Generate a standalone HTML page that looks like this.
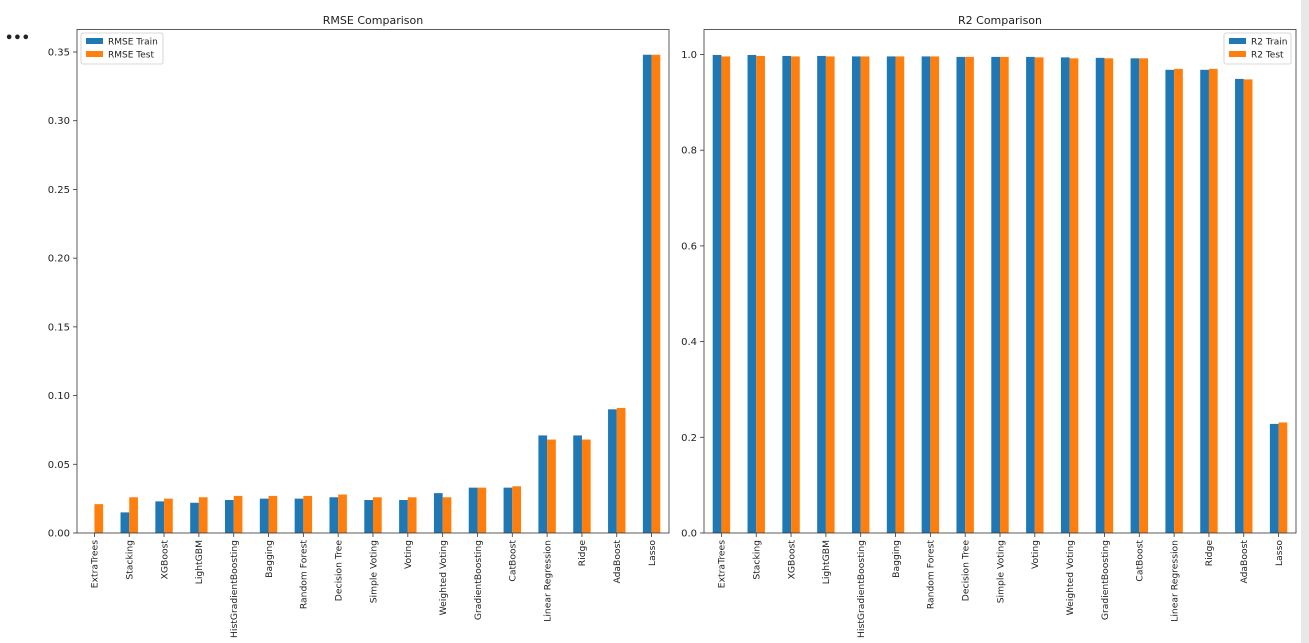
<!DOCTYPE html>
<html><head><meta charset="utf-8"><style>
html,body{margin:0;padding:0;background:#fff;width:1309px;height:643px;overflow:hidden;font-family:"Liberation Sans","DejaVu Sans",sans-serif}
</style></head><body>
<svg id="chart" width="1309" height="643" xmlns="http://www.w3.org/2000/svg" font-family="DejaVu Sans, Liberation Sans, sans-serif">
<rect x="1301" y="0" width="8" height="643" fill="#e8e8e8"/>
<text x="5" y="42" font-size="13" font-weight="bold" fill="#222">•••</text>
</svg>
<script>
const categories=["ExtraTrees","Stacking","XGBoost","LightGBM","HistGradientBoosting","Bagging","Random Forest","Decision Tree","Simple Voting","Voting","Weighted Voting","GradientBoosting","CatBoost","Linear Regression","Ridge","AdaBoost","Lasso"];
const rmseTrain=[0.0,0.015,0.023,0.022,0.024,0.025,0.025,0.026,0.024,0.024,0.029,0.033,0.033,0.071,0.071,0.090,0.348];
const rmseTest=[0.021,0.026,0.025,0.026,0.027,0.027,0.027,0.028,0.026,0.026,0.026,0.033,0.034,0.068,0.068,0.091,0.348];
const r2Train=[0.999,0.999,0.997,0.997,0.996,0.996,0.996,0.995,0.995,0.995,0.994,0.993,0.992,0.968,0.968,0.949,0.228];
const r2Test=[0.996,0.997,0.996,0.996,0.996,0.996,0.996,0.995,0.995,0.994,0.992,0.992,0.992,0.970,0.970,0.948,0.231];
const rmseTicks=[0,0.05,0.10,0.15,0.20,0.25,0.30,0.35];
const r2Ticks=[0,0.2,0.4,0.6,0.8,1.0];
const svg=document.getElementById('chart');
const NS='http://www.w3.org/2000/svg';
function el(t,a,txt){const e=document.createElementNS(NS,t);for(const k in a)e.setAttribute(k,a[k]);if(txt!==undefined)e.textContent=txt;svg.appendChild(e);return e;}
function panel(o){
  const top=29.5,bot=533,h=bot-top;
  const y=v=>bot-v*o.scale;
  const step=(o.x1-o.x0)/categories.length;
  const xc=i=>o.x0+step*(i+0.5);
  const bw=step*0.25;
  const t=el('text',{x:(o.x0+o.x1)/2,y:24,'font-size':11,'text-anchor':'middle',fill:'#222'},o.title);
  
  
  o.ticks.forEach(v=>{
    const l=el('line',{x1:o.x0-4,x2:o.x0,y1:y(v),y2:y(v),stroke:'#333','stroke-width':0.8});
    
    
    const tx=el('text',{x:o.x0-7,y:y(v)+3.5,'font-size':10,'text-anchor':'end',fill:'#222'},v.toFixed(o.dec));
    
    
  });
  categories.forEach((c,i)=>{
    const a=el('rect',{x:xc(i)-bw,y:y(o.train[i]),width:bw,height:o.train[i]*o.scale,fill:'#1f77b4'});
    
    
    const b=el('rect',{x:xc(i),y:y(o.test[i]),width:bw,height:o.test[i]*o.scale,fill:'#ff7f0e'});
    
    
    const tk=el('line',{x1:xc(i),x2:xc(i),y1:bot,y2:bot+4,stroke:'#333','stroke-width':0.8});
    
    
    const lb=el('text',{x:0,y:0,'font-size':9.2,'text-anchor':'end',fill:'#222',transform:`translate(${xc(i)+3.3},${bot+7}) rotate(-90)`},c);
    
    
  });
  const f=el('rect',{x:o.x0,y:top,width:o.x1-o.x0,height:h,fill:'none',stroke:'#333','stroke-width':0.8});
  
  
  const lw=o.legendRight?67:82;
  const lx=o.legendRight?o.x1-lw-5:o.x0+4;
  const lg=el('rect',{x:lx,y:33,width:lw,height:31,fill:'#fff',stroke:'#ccc','stroke-width':0.8,rx:2});
  
  
  [['#1f77b4',o.l1],['#ff7f0e',o.l2]].forEach((p,j)=>{
    const s=el('rect',{x:lx+5,y:38+j*13,width:17,height:6,fill:p[0]});
    
    
    const lt=el('text',{x:lx+27,y:44.5+j*13,'font-size':9,fill:'#222'},p[1]);
    
    
  });
}
panel({key:'rmse',x0:77,x1:669,scale:(533-52)/0.35,ticks:rmseTicks,dec:2,title:'RMSE Comparison',train:rmseTrain,test:rmseTest,l1:'RMSE Train',l2:'RMSE Test',legendRight:false});
panel({key:'r2',x0:704,x1:1296,scale:(533-54.5),ticks:r2Ticks,dec:1,title:'R2 Comparison',train:r2Train,test:r2Test,l1:'R2 Train',l2:'R2 Test',legendRight:true});
</script>
</body></html>
